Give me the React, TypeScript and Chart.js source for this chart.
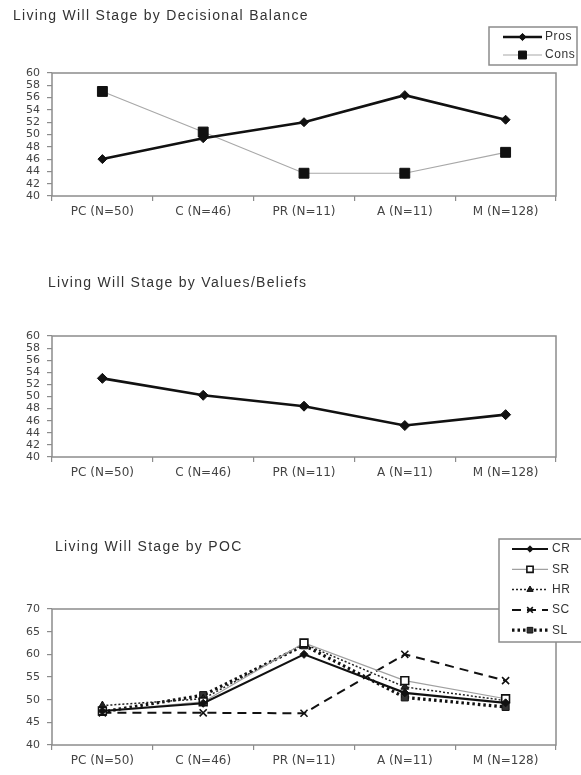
import React, { useEffect, useRef } from "react";
import { Chart, registerables } from "chart.js";
import { drawPoint } from "chart.js/helpers";

Chart.register(...registerables);

// ---------- data ----------
const stages = ["PC (N=50)", "C (N=46)", "PR (N=11)", "A (N=11)", "M (N=128)"];

const prosValues = [46, 49.4, 52, 56.4, 52.4];
const consValues = [57, 50.4, 43.7, 43.7, 47.1];

const valuesBeliefsValues = [53, 50.2, 48.4, 45.2, 47];

const crValues = [47.5, 49.2, 60, 51.5, 49.3];
const srValues = [47.5, 49.5, 62.5, 54.2, 50.2];
const hrValues = [48.7, 50.2, 62.3, 52.8, 49.8];
const scValues = [47.1, 47.1, 47, 60, 54.2];
const slValues = [47.3, 51, 62, 50.5, 48.4];

const balanceAxis = [40, 60, 2]; // min, max, step
const beliefsAxis = [40, 60, 2];
const pocAxis = [40, 70, 5];

const titles = [
  "Living Will Stage by Decisional Balance",
  "Living Will Stage by Values/Beliefs",
  "Living Will Stage by POC",
];

// ---------- plugins ----------
const framePlugin = {
  id: "frame",
  beforeDatasetsDraw(chart: any) {
    const { ctx, chartArea: a } = chart;
    ctx.save();
    ctx.strokeStyle = "#8c8c8c";
    ctx.lineWidth = 1.5;
    ctx.strokeRect(a.left, a.top, a.right - a.left, a.bottom - a.top);
    ctx.restore();
  },
};

const boxLegendPlugin = {
  id: "boxLegend",
  afterDraw(chart: any, _args: any, opts: any) {
    if (!opts || !opts.show) return;
    const ctx = chart.ctx;
    ctx.save();
    ctx.fillStyle = "#ffffff";
    ctx.fillRect(opts.x, opts.y, opts.w, opts.h);
    ctx.strokeStyle = "#8c8c8c";
    ctx.lineWidth = 1.5;
    ctx.strokeRect(opts.x, opts.y, opts.w, opts.h);
    chart.data.datasets.forEach((ds: any, i: number) => {
      const y = opts.firstRow + i * opts.rowGap;
      ctx.save();
      ctx.strokeStyle = ds.borderColor;
      ctx.lineWidth = ds.borderWidth;
      ctx.setLineDash(ds.borderDash || []);
      ctx.beginPath();
      ctx.moveTo(opts.lineStart, y);
      ctx.lineTo(opts.lineEnd, y);
      ctx.stroke();
      ctx.setLineDash([]);
      ctx.fillStyle = ds.pointBackgroundColor;
      ctx.strokeStyle = ds.pointBorderColor;
      ctx.lineWidth = ds.pointBorderWidth;
      drawPoint(
        ctx,
        {
          pointStyle: ds.pointStyle,
          radius: ds.pointRadius * 0.8,
          borderWidth: ds.pointBorderWidth,
          rotation: 0,
        } as any,
        (opts.lineStart + opts.lineEnd) / 2,
        y
      );
      ctx.fillStyle = "#333333";
      ctx.font = '12px "Liberation Sans", Arial, sans-serif';
      (ctx as any).letterSpacing = "0.6px";
      ctx.textBaseline = "middle";
      ctx.textAlign = "left";
      ctx.fillText(ds.label, opts.textX, y);
      ctx.restore();
    });
    ctx.restore();
  },
};

// ---------- config ----------
const tickFont = { family: '"DejaVu Sans", sans-serif', size: 11 };
const xTickFont = { family: '"DejaVu Sans", sans-serif', size: 12 };

function makeConfig(
  datasets: any[],
  axis: number[],
  padTop: number,
  xHeight: number,
  legend: any
) {
  return {
    type: "line" as const,
    data: { labels: stages, datasets },
    plugins: [framePlugin, boxLegendPlugin],
    options: {
      responsive: false,
      maintainAspectRatio: false,
      animation: false as const,
      layout: { padding: { left: 0, right: 25, top: padTop, bottom: 0 } },
      elements: { line: { tension: 0 } },
      plugins: {
        legend: { display: false },
        tooltip: { enabled: false },
        title: { display: false },
        boxLegend: legend,
      },
      scales: {
        x: {
          type: "category" as const,
          offset: true,
          grid: {
            display: true,
            drawOnChartArea: false,
            drawTicks: true,
            tickLength: 5,
            color: "#8c8c8c",
            lineWidth: 1.2,
            offset: true,
          },
          border: { display: false },
          ticks: {
            color: "#444444",
            font: xTickFont,
            padding: 4,
            maxRotation: 0,
            autoSkip: false,
          },
          afterFit: (s: any) => {
            s.height = xHeight;
          },
        },
        y: {
          min: axis[0],
          max: axis[1],
          grid: {
            display: true,
            drawOnChartArea: false,
            drawTicks: true,
            tickLength: 5,
            color: "#8c8c8c",
            lineWidth: 1.2,
          },
          border: { display: false },
          ticks: {
            stepSize: axis[2],
            color: "#444444",
            font: tickFont,
            padding: 7,
            autoSkip: false,
          },
          afterFit: (s: any) => {
            s.width = 52;
          },
        },
      },
    },
  };
}

const config1 = makeConfig(
  [
    {
      label: "Pros",
      data: prosValues,
      borderColor: "#111111",
      borderWidth: 2.6,
      pointStyle: "rectRot",
      pointRadius: 4.5,
      pointBackgroundColor: "#111111",
      pointBorderColor: "#111111",
      pointBorderWidth: 1,
    },
    {
      label: "Cons",
      data: consValues,
      borderColor: "#a8a8a8",
      borderWidth: 1.2,
      pointStyle: "rect",
      pointRadius: 7,
      pointBackgroundColor: "#111111",
      pointBorderColor: "#111111",
      pointBorderWidth: 1,
    },
  ],
  balanceAxis,
  73,
  34,
  {
    show: true,
    x: 489,
    y: 27,
    w: 88,
    h: 38,
    firstRow: 37,
    rowGap: 18,
    lineStart: 503,
    lineEnd: 542,
    textX: 545,
  }
);

const config2 = makeConfig(
  [
    {
      label: "Values/Beliefs",
      data: valuesBeliefsValues,
      borderColor: "#111111",
      borderWidth: 2.6,
      pointStyle: "rectRot",
      pointRadius: 5,
      pointBackgroundColor: "#111111",
      pointBorderColor: "#111111",
      pointBorderWidth: 1,
    },
  ],
  beliefsAxis,
  76,
  33,
  { show: false }
);

const config3 = makeConfig(
  [
    {
      label: "CR",
      data: crValues,
      borderColor: "#111111",
      borderWidth: 2.2,
      pointStyle: "rectRot",
      pointRadius: 4,
      pointBackgroundColor: "#111111",
      pointBorderColor: "#111111",
      pointBorderWidth: 1,
    },
    {
      label: "SR",
      data: srValues,
      borderColor: "#a0a0a0",
      borderWidth: 1.2,
      pointStyle: "rect",
      pointRadius: 5.5,
      pointBackgroundColor: "#ffffff",
      pointBorderColor: "#111111",
      pointBorderWidth: 1.6,
    },
    {
      label: "HR",
      data: hrValues,
      borderColor: "#222222",
      borderWidth: 1.5,
      borderDash: [2, 2],
      pointStyle: "triangle",
      pointRadius: 4.5,
      pointBackgroundColor: "#222222",
      pointBorderColor: "#111111",
      pointBorderWidth: 1,
    },
    {
      label: "SC",
      data: scValues,
      borderColor: "#111111",
      borderWidth: 2,
      borderDash: [9, 6],
      pointStyle: "crossRot",
      pointRadius: 5,
      pointBackgroundColor: "#111111",
      pointBorderColor: "#111111",
      pointBorderWidth: 1.6,
    },
    {
      label: "SL",
      data: slValues,
      borderColor: "#111111",
      borderWidth: 3.2,
      borderDash: [2.5, 3],
      pointStyle: "rect",
      pointRadius: 5,
      pointBackgroundColor: "#333333",
      pointBorderColor: "#111111",
      pointBorderWidth: 1,
    },
  ],
  pocAxis,
  89,
  30,
  {
    show: true,
    x: 499,
    y: 19,
    w: 90,
    h: 103,
    firstRow: 29,
    rowGap: 20.3,
    lineStart: 512,
    lineEnd: 548,
    textX: 552,
  }
);

// ---------- components ----------
function LineChart({ config, top, height }: { config: any; top: number; height: number }) {
  const ref = useRef<HTMLCanvasElement | null>(null);
  useEffect(() => {
    if (!ref.current) return;
    const chart = new Chart(ref.current, config);
    return () => chart.destroy();
  }, [config]);
  return (
    <canvas
      ref={ref}
      width={581}
      height={height}
      style={{ position: "absolute", left: 0, top, width: 581, height, display: "block" }}
    />
  );
}

const titleStyle: React.CSSProperties = {
  position: "absolute",
  fontFamily: '"Liberation Sans", Arial, sans-serif',
  fontSize: 14,
  lineHeight: "16px",
  letterSpacing: "1.3px",
  color: "#333333",
  whiteSpace: "nowrap",
};

export default function App() {
  return (
    <div
      style={{
        position: "absolute",
        left: 0,
        top: 0,
        width: 581,
        height: 775,
        background: "#ffffff",
        overflow: "hidden",
      }}
    >
      <LineChart config={config1} top={0} height={230} />
      <LineChart config={config2} top={260} height={230} />
      <LineChart config={config3} top={520} height={255} />
      <div style={{ ...titleStyle, left: 13, top: 7 }}>{titles[0]}</div>
      <div style={{ ...titleStyle, left: 48, top: 274 }}>{titles[1]}</div>
      <div style={{ ...titleStyle, left: 55, top: 538 }}>{titles[2]}</div>
    </div>
  );
}
